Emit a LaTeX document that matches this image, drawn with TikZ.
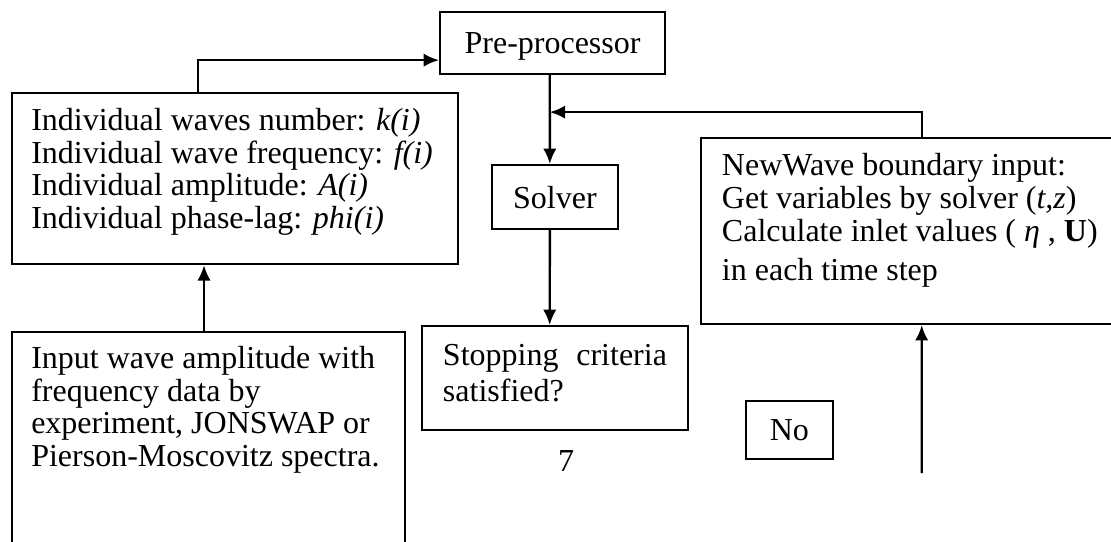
\documentclass[tikz,border=0pt]{standalone}
\usepackage{fontspec}
\setmainfont{Liberation Serif}
\usetikzlibrary{arrows.meta,calc}
\begin{document}
\begin{tikzpicture}[x=0.75pt,y=-0.75pt,
  every node/.style={font=\fontsize{24pt}{24.4pt}\selectfont, inner sep=0pt},
  box/.style={draw, line width=1.6pt, inner sep=0pt, anchor=north west},
  txt/.style={anchor=base west, align=left},
  arr/.style={line width=1.8pt, -{Latex[length=11.5pt,width=10pt]}},
]
\useasboundingbox (0,0) rectangle (1111,542);
\clip (0,0) rectangle (1111,542);

% boxes
\node[box, minimum width=168.75pt, minimum height=46.5pt, text depth=0pt] (pre) at (439,11) {Pre-processor};
\node[box, minimum width=94.7pt, minimum height=48pt] (solver) at (490.7,164) {Solver};
\node[box, minimum width=334.5pt, minimum height=128.5pt] (params) at (10.7,91.7) {};
\node[box, minimum width=295pt, minimum height=180pt] (input) at (10.7,331) {};
\node[box, minimum width=322.5pt, minimum height=139.5pt] (nw) at (700,137) {};
\node[box, minimum width=199.5pt, minimum height=78pt] (stop) at (421,325) {};
\node[box, minimum width=65pt, minimum height=43.5pt] (no) at (745,400) {No};

% texts (base anchor = baseline of the last line)
\node[txt] (paramstext) at (31,228.5) {Individual waves number: \textit{k(i)}\\
Individual wave frequency: \textit{f(i)}\\
Individual amplitude: \textit{A(i)}\\
Individual phase-lag: \textit{phi(i)}};
\node[txt] (inputtext) at (31,466.5) {Input wave amplitude with\\
frequency data by\\
experiment, JONSWAP or\\
Pierson-Moscovitz spectra.};
\node[txt] (nwtext) at (721.7,280) {NewWave boundary input:\\[0.5pt]
Get variables by solver (\textit{t,z})\\[0.5pt]
Calculate inlet values ( \textit{η} , \textbf{U})\\[4.5pt]
in each time step};
\node[txt] (stoptext) at (442.7,401.7) {\makebox[168pt][s]{Stopping criteria}\\[3pt]
satisfied?};
\node[anchor=base] (seven) at (566,471.7) {7};

% connectors
\draw[arr] ([xshift=140.5pt]params.north west) |- ([yshift=11.25pt]pre.south west);
\draw[arr] ([xshift=-2.1pt]pre.south) -- ([xshift=-3.8pt]solver.north);
\draw[arr] ([xshift=-3.8pt]solver.south) -- ([xshift=-4pt]stop.north);
\draw[arr] ([xshift=166.3pt]nw.north west) |- ([xshift=-2.1pt,yshift=-27.75pt]pre.south);
\draw[arr] ([xshift=145pt]input.north west) -- ([xshift=145pt]params.south west);
\coordinate (nwin) at (921.7,473);
\draw[arr] (nwin) -- ([xshift=166.3pt]nw.south west);
\end{tikzpicture}
\end{document}
